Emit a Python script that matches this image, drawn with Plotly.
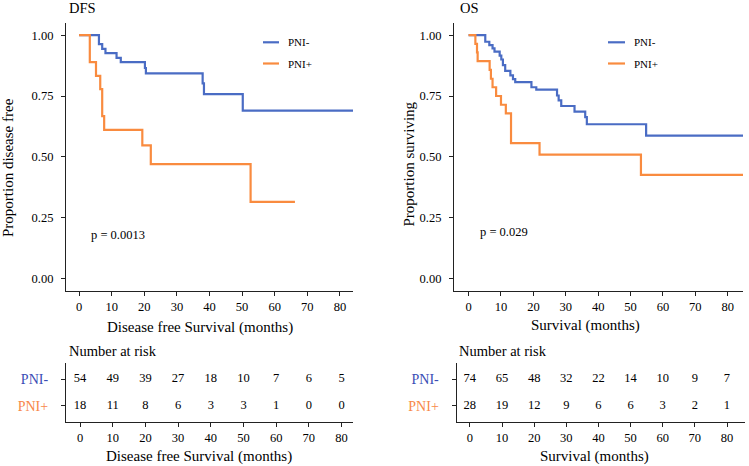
import plotly.graph_objects as go

W, H = 749, 466
FONT = "Liberation Serif"
BLUE = "#4A6CC4"
ORANGE = "#F98B3F"
BLUE_LBL = "#3A4DB5"
ORANGE_LBL = "#F8884A"
AXIS = "#222222"

# time axis ticks shared by curves and risk tables
months = [0, 10, 20, 30, 40, 50, 60, 70, 80]
surv_ticks = [0, 0.25, 0.5, 0.75, 1.0]
groups = ["PNI-", "PNI+"]

# DFS Kaplan-Meier steps
dfs_neg_t = [0, 6.1, 7.1, 8.1, 11.5, 12.8, 20.2, 20.5, 37.9, 38.3, 50.2, 86]
dfs_neg_s = [1, 0.963, 0.944, 0.926, 0.907, 0.889, 0.865, 0.843, 0.802, 0.758, 0.690, 0.690]
dfs_pos_t = [0, 3.3, 5.2, 6.5, 7.1, 7.7, 19.4, 22.0, 52.6, 66.2]
dfs_pos_s = [1, 0.889, 0.833, 0.778, 0.667, 0.611, 0.547, 0.470, 0.315, 0.315]

# OS Kaplan-Meier steps
os_neg_t = [0, 5.15, 6.4, 7.4, 8.0, 9.6, 10.1, 10.6, 11.3, 12.9, 13.7, 14.4,
            19.4, 20.9, 27.3, 27.8, 28.6, 32.7, 36.0, 36.5, 54.8, 90]
os_neg_s = [1, 0.973, 0.959, 0.946, 0.932, 0.916, 0.900, 0.877, 0.853, 0.835, 0.819, 0.807,
            0.786, 0.776, 0.752, 0.732, 0.709, 0.686, 0.663, 0.634, 0.587, 0.587]
os_pos_t = [0, 2.1, 2.6, 2.8, 6.5, 6.9, 7.4, 8.5, 10.0, 11.5, 13.1, 21.9, 53.2, 90]
os_pos_s = [1, 0.964, 0.929, 0.893, 0.857, 0.821, 0.786, 0.750, 0.714, 0.679, 0.556, 0.509, 0.426, 0.426]

# numbers at risk
dfs_risk_neg = [54, 49, 39, 27, 18, 10, 7, 6, 5]
dfs_risk_pos = [18, 11, 8, 6, 3, 3, 1, 0, 0]
os_risk_neg = [74, 65, 48, 32, 22, 14, 10, 9, 7]
os_risk_pos = [28, 19, 12, 9, 6, 6, 3, 2, 1]

dfs_p = "p = 0.0013"
os_p = "p = 0.029"


def px(x):
    return x / W


def py(y):
    return 1 - y / H


fig = go.Figure()

# survival curves
for t, s, col, ax in [(dfs_neg_t, dfs_neg_s, BLUE, "x"), (dfs_pos_t, dfs_pos_s, ORANGE, "x"),
                      (os_neg_t, os_neg_s, BLUE, "x2"), (os_pos_t, os_pos_s, ORANGE, "x2")]:
    fig.add_trace(go.Scatter(x=t, y=s, mode="lines", line=dict(color=col, width=2.2, shape="hv"),
                             xaxis=ax, yaxis=ax.replace("x", "y"), showlegend=False))

# risk tables
for neg, pos, ax in [(dfs_risk_neg, dfs_risk_pos, "x3"), (os_risk_neg, os_risk_pos, "x4")]:
    for vals, row in [(neg, 2), (pos, 1)]:
        fig.add_trace(go.Scatter(x=months, y=[row] * len(months), mode="text",
                                 text=[str(v) for v in vals],
                                 textfont=dict(family=FONT, size=12.5, color="black"),
                                 xaxis=ax, yaxis=ax.replace("x", "y"), showlegend=False))

common_x = dict(showline=True, linecolor=AXIS, linewidth=1.2, ticks="outside", ticklen=4,
                tickcolor=AXIS, tickwidth=1.2, showgrid=False, zeroline=False,
                tickvals=months, tickfont=dict(family=FONT, size=12.5, color="black"))
common_y = dict(showline=True, linecolor=AXIS, linewidth=1.2, ticks="outside", ticklen=4,
                tickcolor=AXIS, tickwidth=1.2, showgrid=False, zeroline=False)

main_top, main_bot = 23, 290.7
tab_top, tab_bot = 363, 421.7

fig.update_layout(
    width=W, height=H, margin=dict(l=0, r=0, t=0, b=0),
    paper_bgcolor="white", plot_bgcolor="white",
    font=dict(family=FONT, color="black"),
    xaxis=dict(common_x, domain=[px(66), px(353)], range=[-4, 84], anchor="y"),
    yaxis=dict(common_y, domain=[py(main_bot), py(main_top)], range=[-0.05, 1.05], anchor="x",
               tickvals=surv_ticks, ticktext=["%.2f" % v for v in surv_ticks],
               tickfont=dict(family=FONT, size=12.5, color="black"), ticklabelstandoff=5),
    xaxis2=dict(common_x, domain=[px(454), px(743)], range=[-4.5, 84.7], anchor="y2"),
    yaxis2=dict(common_y, domain=[py(main_bot), py(main_top)], range=[-0.05, 1.05], anchor="x2",
                tickvals=surv_ticks, ticktext=["%.2f" % v for v in surv_ticks],
                tickfont=dict(family=FONT, size=12.5, color="black"), ticklabelstandoff=5),
    xaxis3=dict(common_x, domain=[px(66), px(353)], range=[-4.3, 83.5], anchor="y3"),
    yaxis3=dict(common_y, domain=[py(tab_bot), py(tab_top)], range=[0.4, 2.6], anchor="x3",
                tickvals=[2, 1],
                ticktext=["<span style='color:%s'>%s</span>" % (BLUE_LBL, groups[0]),
                          "<span style='color:%s'>%s</span>" % (ORANGE_LBL, groups[1])],
                tickfont=dict(family=FONT, size=14), ticklabelstandoff=10),
    xaxis4=dict(common_x, domain=[px(456.7), px(745)], range=[-4.1, 85.6], anchor="y4"),
    yaxis4=dict(common_y, domain=[py(tab_bot), py(tab_top)], range=[0.4, 2.6], anchor="x4",
                tickvals=[2, 1],
                ticktext=["<span style='color:%s'>%s</span>" % (BLUE_LBL, groups[0]),
                          "<span style='color:%s'>%s</span>" % (ORANGE_LBL, groups[1])],
                tickfont=dict(family=FONT, size=14), ticklabelstandoff=10),
)


def label(x, y, text, size, xanchor="center", angle=0, color="black"):
    fig.add_annotation(x=px(x), y=py(y), xref="paper", yref="paper", text=text, showarrow=False,
                       xanchor=xanchor, yanchor="middle", textangle=angle,
                       font=dict(family=FONT, size=size, color=color))


# panel titles
label(67, 8.5, "DFS", 14.5, xanchor="left")
label(458, 8.5, "OS", 14.5, xanchor="left")
# axis titles
label(8, 168, "Proportion disease free", 15, angle=-90)
label(408, 164.5, "Proportion surviving", 15, angle=-90)
label(200, 327.5, "Disease free Survival (months)", 15)
label(585, 325.5, "Survival (months)", 15)
label(199, 456.5, "Disease free Survival (months)", 15)
label(594, 456.5, "Survival (months)", 15)
# risk table headers
label(67, 351, "Number at risk", 14.5, xanchor="left")
label(457, 351, "Number at risk", 14.5, xanchor="left")

# p-values in data coordinates
fig.add_annotation(x=11.8, y=0.18, xref="x", yref="y", text=dfs_p, showarrow=False,
                   font=dict(family=FONT, size=12.5, color="black"))
fig.add_annotation(x=11.0, y=0.19, xref="x2", yref="y2", text=os_p, showarrow=False,
                   font=dict(family=FONT, size=12.5, color="black"))

# legend keys drawn inside each panel
for x0, x1, tx in [(263, 279, 286), (608, 625, 632)]:
    for yy, col, name in [(42.3, BLUE, groups[0]), (63.5, ORANGE, groups[1])]:
        fig.add_shape(type="line", xref="paper", yref="paper", x0=px(x0), x1=px(x1),
                      y0=py(yy), y1=py(yy), line=dict(color=col, width=2.2))
        label(tx, yy, name, 11, xanchor="left")

# drop the browser's default body margin so the figure sits at the page corner
fig.write_html("out.html", config={"displayModeBar": False},
               post_script="document.body.style.margin='0px';")
